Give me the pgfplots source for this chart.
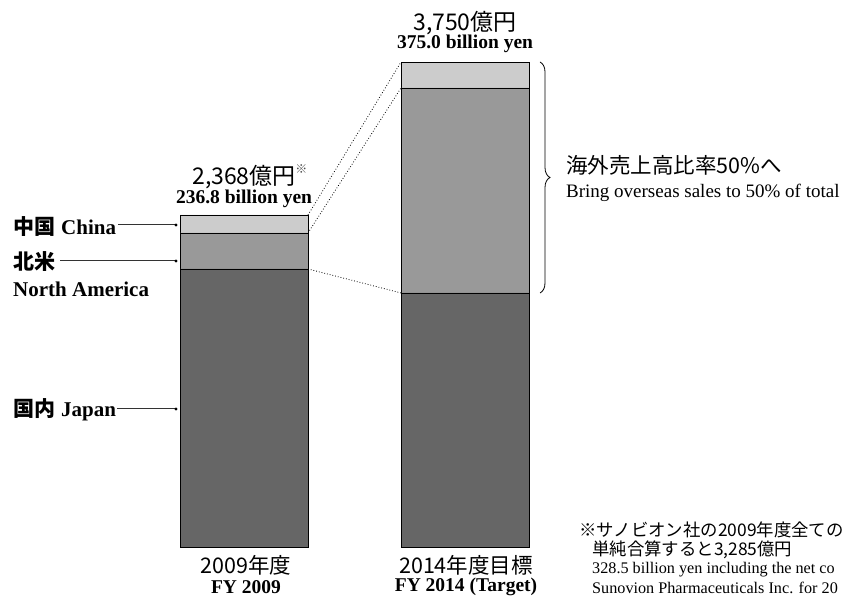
\documentclass[border=0pt]{standalone}
\usepackage{pgfplots}
\pgfplotsset{compat=1.18}
\usepackage{fontspec}
\setmainfont{Liberation Serif}
\newfontfamily\jp{Noto Sans CJK JP}
\usetikzlibrary{decorations.pathreplacing}

\definecolor{japan}{HTML}{666666}
\definecolor{namer}{HTML}{999999}
\definecolor{china}{HTML}{CCCCCC}

\tikzset{
  en/.style={font=\fontsize{19}{22}\selectfont},
  enb/.style={font=\fontsize{19.5}{22}\selectfont\bfseries},
  ja/.style={font=\fontsize{21.5}{24}\selectfont\jp},
  jtot/.style={font=\fontsize{23}{26}\selectfont\jp},
  note/.style={font=\fontsize{16.2}{19}\selectfont},
  notej/.style={font=\fontsize{17.4}{20}\selectfont\jp},
  lead/.style={draw=black!80, line width=1pt},
}

\begin{document}
\begin{tikzpicture}[x=1pt,y=1pt]
\useasboundingbox (0,-49) rectangle (844,547);
\begin{axis}[
  at={(0,0)}, anchor=south west,
  scale only axis, width=844pt, height=547pt,
  xmin=0, xmax=844, ymin=0, ymax=390.15,
  hide axis, clip=false,
  ybar stacked, bar width=128,
]
% Japan, North America, China (overseas)
\addplot[fill=japan, draw=black, line width=0.8pt] coordinates {(244,198.3) (465,181.2)};
\addplot[fill=namer, draw=black, line width=0.8pt] coordinates {(244,25.7) (465,146.2)};
\addplot[fill=china, draw=black, line width=0.8pt] coordinates {(244,12.8) (465,18.5)};

\draw[dotted, line width=0.8pt] (axis cs:308,236.8) -- (axis cs:401,345.9);
\draw[dotted, line width=0.8pt] (axis cs:308,224.0) -- (axis cs:401,327.4);
\draw[dotted, line width=0.8pt] (axis cs:308,198.3) -- (axis cs:401,181.2);
\end{axis}

% totals
\node[jtot] (t1) at (244,370) {2,368億円};
\node[anchor=north west, inner sep=0pt, font=\fontsize{12}{12}\selectfont\jp, text=black!70] at ([xshift=-4pt,yshift=-3pt]t1.north east) {※};
\node[enb] at (244,348) {236.8 billion yen};
\node[jtot] at (465,524) {3,750億円};
\node[enb] at (465,503) {375.0 billion yen};

% left labels
\node[anchor=west, inner sep=0pt] (l1) at (13,320) {{\jp\bfseries\fontsize{21}{24}\selectfont 中国}\hspace{6pt}{\fontsize{21}{24}\selectfont\bfseries China}};
\draw[lead] ([xshift=2pt]l1.east |- 0,322) -- (176,322);
\fill (176,322) circle (1.7);
\node[anchor=west, inner sep=0pt, font=\fontsize{21}{24}\selectfont\jp\bfseries] (l2) at (13,285) {北米};
\draw[lead] ([xshift=5pt]l2.east |- 0,286) -- (176,286);
\fill (176,286) circle (1.7);
\node[anchor=west, inner sep=0pt, font=\fontsize{21}{24}\selectfont\bfseries] at (13,258) {North America};
\node[anchor=west, inner sep=0pt] (l3) at (13,137) {{\jp\bfseries\fontsize{21}{24}\selectfont 国内}\hspace{6pt}{\fontsize{21}{24}\selectfont\bfseries Japan}};
\draw[lead] ([xshift=1pt]l3.east |- 0,138) -- (176,138);
\fill (176,138) circle (1.7);

% category labels
\node[ja] at (246,-18) {2009年度};
\node[enb] at (246,-40) {FY 2009};
\node[ja] at (466,-18) {2014年度目標};
\node[enb] at (466,-40) {FY 2014 (Target)};

% brace and note
\draw[decorate, decoration={brace, amplitude=10pt}, line width=0.8pt] (540,485) -- (540,254);
\node[ja, anchor=west, inner sep=0pt] at (566,382) {海外売上高比率50\%へ};
\node[en, anchor=west, inner sep=0pt] at (566,354) {Bring overseas sales to 50\% of total};

% footnote (ends at the right edge as in the reference)
\node[notej, anchor=west, inner sep=0pt] at (579,17) {※サノビオン社の2009年度全ての};
\node[notej, anchor=west, inner sep=0pt] at (592,-3) {単純合算すると3,285億円};
\node[note, anchor=west, inner sep=0pt] at (592,-23) {328.5 billion yen including the net co};
\node[note, anchor=west, inner sep=0pt] at (592,-41) {Sunovion Pharmaceuticals Inc. for 20};
\end{tikzpicture}
\end{document}
